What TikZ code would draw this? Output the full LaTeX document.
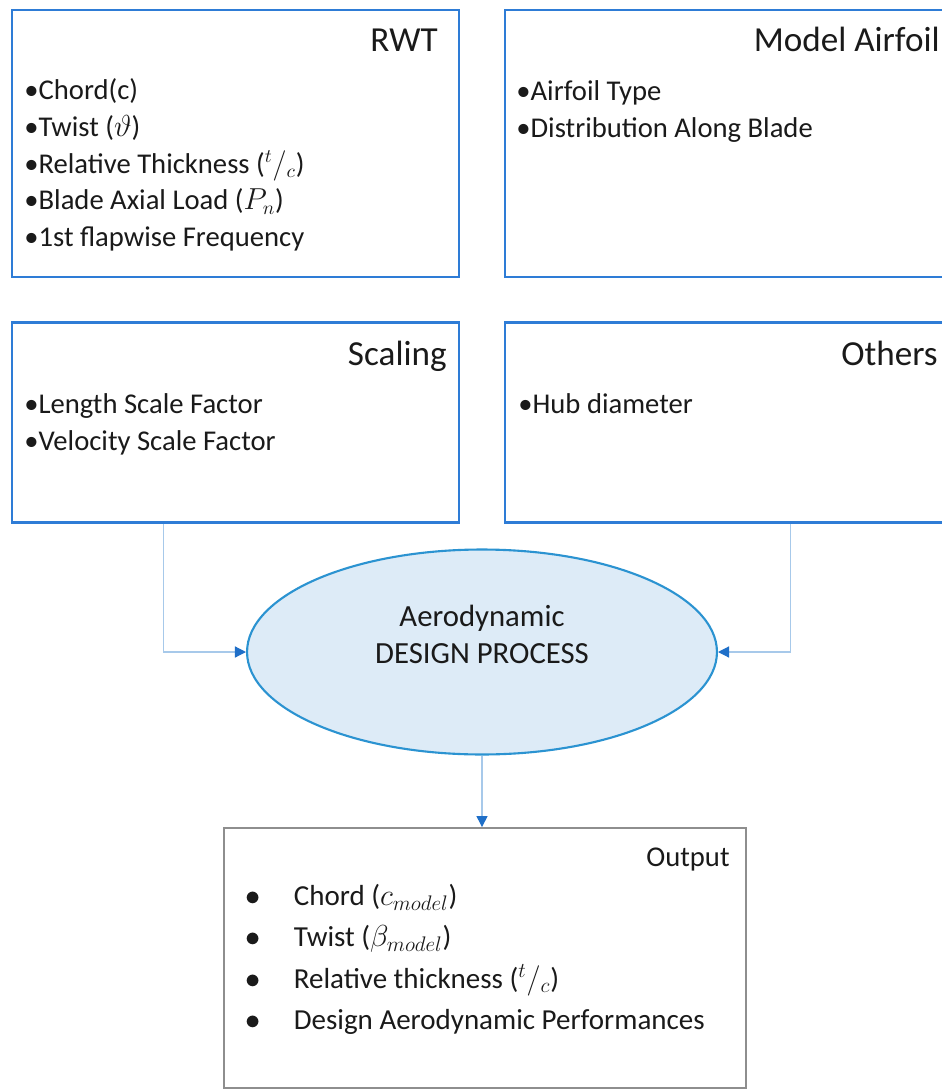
\documentclass[tikz,border=0pt]{standalone}
\usepackage{fontspec}
\setmainfont{Carlito}
\usepackage{amsmath}
\usepackage{tikz}
\usetikzlibrary{calc,arrows.meta}
\usetikzlibrary{shapes.geometric}
\usetikzlibrary{positioning}
\definecolor{bx-blue}{HTML}{2E7CD6}
\definecolor{el-fill}{HTML}{DDEBF7}
\definecolor{el-line}{HTML}{2B93D1}
\definecolor{ln-blue}{HTML}{A7C9EA}
\definecolor{tip-blue}{HTML}{1F6FC8}
\definecolor{out-gray}{HTML}{8E8E8E}
\definecolor{tx-dark}{HTML}{1A1A1A}

\tikzset{
  inbox/.style={rectangle, draw=bx-blue, line width=1.5pt, minimum width=8.94cm, inner sep=0pt},
  boxtitle/.style={inner sep=0pt, text=tx-dark, font=\fontsize{20}{24}\selectfont},
  itemlist/.style={inner sep=0pt, text=tx-dark, align=left, font=\fontsize{16.3}{21}\selectfont},
  link/.style={ln-blue, line width=0.7pt, -{Triangle[length=0.22cm, width=0.22cm, color=tip-blue]}},
}

\begin{document}
\begin{tikzpicture}[x=0.02cm, y=-0.02cm]
    \clip (0,0) rectangle (942,1091);
    \fill[white] (0,0) rectangle (942,1091);

    % --- input boxes ---
    \node[inbox, minimum height=5.34cm] (rwt) at (235.5,143.5) {};
    \node[inbox, minimum width=9.1cm, minimum height=5.34cm] (airfoil) at (732.5,143.5) {};
    \node[inbox, minimum height=4.0cm] (scaling) at (235.5,422.5) {};
    \node[inbox, minimum width=9.1cm, minimum height=4.0cm] (others) at (732.5,422.5) {};

    % box titles
    \node[boxtitle, anchor=base east] (rwt-title) at (438,52) {RWT};
    \node[boxtitle, anchor=base east] (airfoil-title) at (940,52) {Model Airfoil};
    \node[boxtitle, anchor=base east] (scaling-title) at (447,365) {Scaling};
    \node[boxtitle, anchor=base east] (others-title) at (938,365) {Others};

    % box contents
    \node[itemlist, anchor=north west] (rwt-list) at (24,78) {%
        •Chord(c)\\
        •Twist ($\vartheta$)\\
        •Relative Thickness ($^{t}/_{c}$)\\
        •Blade Axial Load ($P_{n}$)\\
        •1st flapwise Frequency};
    \node[itemlist, anchor=north west] (airfoil-list) at (516,80) {%
        •Airfoil Type\\
        •Distribution Along Blade};
    \node[itemlist, anchor=north west] (scaling-list) at (24,393) {%
        •Length Scale Factor\\
        •Velocity Scale Factor};
    \node[itemlist, anchor=north west] (others-list) at (518,393) {%
        •Hub diameter};

    % --- design process ---
    \node[ellipse, draw=el-line, fill=el-fill, line width=1.2pt, minimum width=9.4cm,
          minimum height=4.1cm, align=center, text=tx-dark,
          font=\fontsize{17.5}{21}\selectfont] (design) at (482,652)
          {Aerodynamic\\DESIGN PROCESS\rule[-20pt]{0pt}{20pt}};

    % --- output box ---
    \node[rectangle, draw=out-gray, line width=1.1pt, minimum width=10.44cm,
          minimum height=5.2cm] (output) at (485,958) {};
    \node[itemlist, anchor=base east] (output-title) at (730,866) {Output};
    \node[itemlist, anchor=north west, font=\fontsize{16.5}{23.5}\selectfont] (output-list) at (245,884) {%
        \makebox[0.97cm][l]{$\bullet$}Chord ($c_{model}$)\\
        \makebox[0.97cm][l]{$\bullet$}Twist ($\beta_{model}$)\\
        \makebox[0.97cm][l]{$\bullet$}Relative thickness ($^{t}/_{c}$)\\
        \makebox[0.97cm][l]{$\bullet$}Design Aerodynamic Performances};

    % --- connectors ---
    \draw[link] ($(scaling.south west)+(153,0)$) |- (design.west);
    \draw[link] ($(others.south west)+(287,0)$) |- (design.east);
    \draw[link] (design.south) -- (design.south |- output.north);
\end{tikzpicture}
\end{document}
